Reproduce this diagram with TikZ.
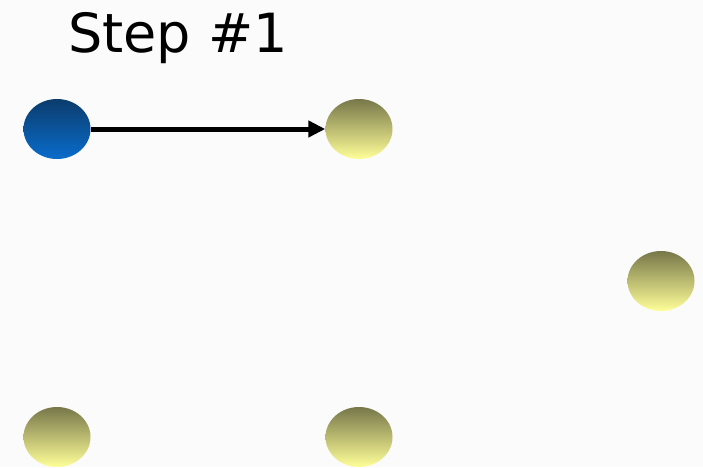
\documentclass[tikz,border=0pt]{standalone}
\usepackage{fontspec}
\setmainfont{DejaVu Sans}
\usepackage{tikz}
\usetikzlibrary{positioning, arrows.meta, shapes.geometric}
\definecolor{bluetop}{HTML}{0B3C6C}
\definecolor{bluebot}{HTML}{0A6CCB}
\definecolor{olivetop}{HTML}{77774A}
\definecolor{olivebot}{HTML}{FFFF99}
\definecolor{paper}{HTML}{FBFBFB}

\begin{document}
\begin{tikzpicture}[x=1pt, y=-1pt,
    vertex/.style={ellipse, minimum width=67pt, minimum height=60pt, inner sep=0pt},
    visited/.style={vertex, top color=bluetop, bottom color=bluebot},
    unvisited/.style={vertex, top color=olivetop, bottom color=olivebot}]

        % Background
        \fill[paper] (0,0) rectangle (703,467);
        \useasboundingbox (0,0) rectangle (703,467);

        % Title
        \node[anchor=base, inner sep=0pt, font=\fontsize{54}{60}\selectfont] (title) at (178,52) {Step \#1};

        % Vertices
        \node[visited] (s) at (57,129) {};
        \node[unvisited] (a) at (359,129) {};
        \node[unvisited] (b) at (661,281) {};
        \node[unvisited] (c) at (57,437) {};
        \node[unvisited] (d) at (359,437) {};

        % Edge being explored
        \draw[line width=5pt, -{Triangle[length=17pt, width=16pt]}] (s) -- (a);

    \end{tikzpicture}
\end{document}
